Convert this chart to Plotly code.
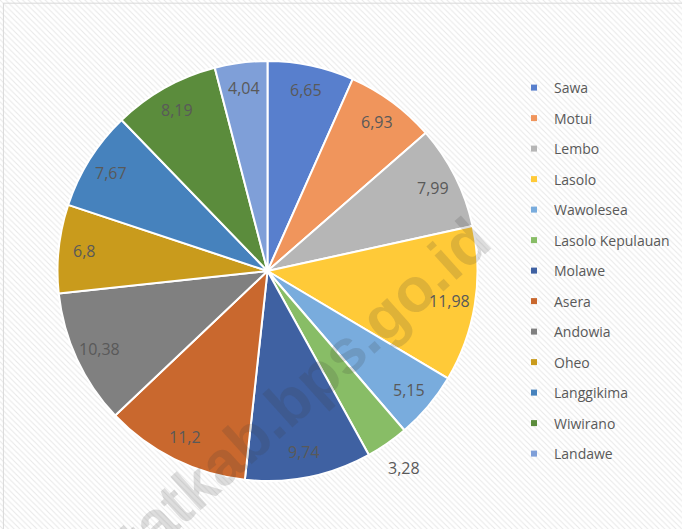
import math
import plotly.graph_objects as go

districts = ["Sawa", "Motui", "Lembo", "Lasolo", "Wawolesea", "Lasolo Kepulauan",
             "Molawe", "Asera", "Andowia", "Oheo", "Langgikima", "Wiwirano", "Landawe"]
shares = [6.65, 6.93, 7.99, 11.98, 5.15, 3.28, 9.74, 11.2, 10.38, 6.8, 7.67, 8.19, 4.04]
slice_colors = ["#587fcd", "#f0955c", "#b6b6b6", "#ffca38", "#79acdd", "#88bd66",
                "#3f61a2", "#c9682e", "#808080", "#c99b1c", "#4682bd", "#5b8c3c", "#7f9fd8"]

W, H = 682, 529
CX, CY, R = 267.5, 271.0, 210.0   # pie centre / radius in pixels (from top-left)

fig = go.Figure()

# hatched chart background
fig.add_trace(go.Bar(x=[0], y=[1], width=[1], showlegend=False, hoverinfo="skip",
                     marker=dict(color="white", line=dict(width=0),
                                 pattern=dict(shape="\\", size=4, solidity=0.28,
                                              fgcolor="#d3d3d3", bgcolor="#ffffff"))))

fig.add_trace(go.Pie(labels=districts, values=shares, textinfo="none",
                     sort=False, direction="clockwise", rotation=0,
                     marker=dict(colors=slice_colors, line=dict(color="white", width=2)),
                     showlegend=False, hoverinfo="label+value",
                     domain=dict(x=[(CX - R) / W, (CX + R) / W],
                                 y=[(H - CY - R) / H, (H - CY + R) / H])))

# legend entries
for name, col in zip(districts, slice_colors):
    fig.add_trace(go.Scatter(x=[None], y=[None], mode="markers", name=name, legendgroup=name,
                             xaxis="x2", yaxis="y2",
                             marker=dict(symbol="square", size=6, color=col)))

# data labels at the inside end of each slice (comma decimal separator)
total = sum(shares)
cum = 0.0
annotations = []
for v in shares:
    mid = (cum + v / 2) / total * 2 * math.pi
    cum += v
    rf = 0.88 if v >= 4 else 1.14
    px = CX + rf * R * math.sin(mid)
    py = CY - rf * R * math.cos(mid)
    annotations.append(dict(x=px, y=H - py, xref="x2", yref="y2", showarrow=False,
                            text=f"{v:g}".replace(".", ","),
                            font=dict(family="Open Sans, Liberation Sans, sans-serif",
                                      size=16, color="#595959")))

annotations.append(dict(text="<b>statkab.bps.go.id</b>", x=290, y=H - 400, xref="x2", yref="y2",
                        showarrow=False, textangle=-42,
                        font=dict(family="Liberation Sans, Arial, sans-serif", size=62,
                                  color="rgba(60,60,60,0.17)")))

fig.update_layout(
    width=W, height=H,
    margin=dict(l=0, r=0, t=0, b=0),
    paper_bgcolor="white", plot_bgcolor="rgba(0,0,0,0)",
    bargap=0,
    xaxis=dict(range=[-0.5, 0.5], visible=False, domain=[0, 1], fixedrange=True),
    yaxis=dict(range=[0, 1], visible=False, domain=[0, 1], fixedrange=True),
    xaxis2=dict(range=[0, W], visible=False, domain=[0, 1], overlaying="x"),
    yaxis2=dict(range=[0, H], visible=False, domain=[0, 1], overlaying="y"),
    legend=dict(x=514 / W, y=1 - 72 / H, xanchor="left", yanchor="top",
                bgcolor="rgba(0,0,0,0)", tracegroupgap=9.3,
                font=dict(family="Open Sans, Liberation Sans, sans-serif", size=14, color="#595959"),
                itemsizing="trace"),
    annotations=annotations,
    shapes=[
        dict(type="rect", xref="paper", yref="paper", x0=527 / W, x1=680 / W,
             y0=1 - 470 / H, y1=1 - 65 / H, fillcolor="rgba(255,255,255,0.6)",
             line=dict(width=0), layer="below"),
        dict(type="rect", xref="paper", yref="paper", x0=0.005, x1=1.01, y0=-0.01, y1=0.994,
             line=dict(color="#d9d9d9", width=1)),
    ],
)

fig.write_html("out.html", config={"displayModeBar": False},
               post_script="document.body.style.margin='0px';")
